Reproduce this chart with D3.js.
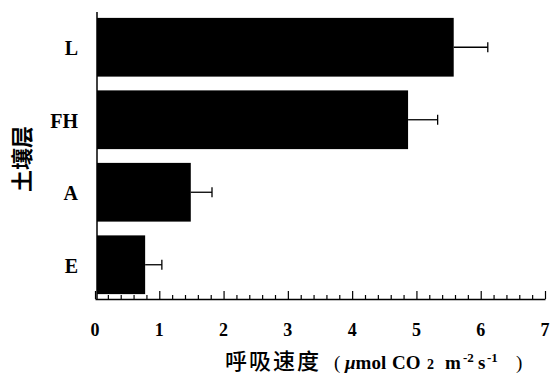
<!DOCTYPE html>
<html><head><meta charset="utf-8">
<script src="https://cdn.jsdelivr.net/npm/d3@7/dist/d3.min.js"></script>
<style>body{margin:0;background:#fff}</style>
</head><body>
<svg id="c" width="551" height="374"></svg>
<script>
const categories = ["L", "FH", "A", "E"];
const values = [5.58, 4.87, 1.49, 0.78];
const errors = [0.53, 0.46, 0.33, 0.26];
const xTicks = [0, 1, 2, 3, 4, 5, 6, 7];

const svg = d3.select("#c");
const x = d3.scaleLinear().domain([0, 7]).range([95, 545]);
const y = d3.scaleBand().domain(categories).range([11, 301]).paddingInner(0.19).paddingOuter(0.095);
const axisY = 299;
const serif = "'Liberation Serif','Times New Roman',serif";
const cjk = "'Noto Sans CJK SC',sans-serif";

// bars
svg.selectAll("rect.bar").data(categories).join("rect")
  .attr("x", x(0) + 2).attr("y", d => y(d))
  .attr("width", (d, i) => x(values[i]) - x(0) - 2)
  .attr("height", y.bandwidth()).attr("fill", "#000");

// error bars
const eb = svg.append("g").attr("stroke", "#000").attr("stroke-width", 1.3);
categories.forEach((c, i) => {
  const cy = y(c) + y.bandwidth() / 2;
  eb.append("line").attr("x1", x(values[i])).attr("x2", x(values[i] + errors[i])).attr("y1", cy).attr("y2", cy);
  eb.append("line").attr("x1", x(values[i] + errors[i])).attr("x2", x(values[i] + errors[i])).attr("y1", cy - 5).attr("y2", cy + 5);
});

// y axis line
svg.append("line").attr("x1", 97).attr("x2", 97).attr("y1", 12).attr("y2", axisY).attr("stroke", "#000").attr("stroke-width", 1.5);

// x axis
const xAxis = d3.axisBottom(x).tickValues(d3.range(0, 7.001, 0.2)).tickSize(0).tickFormat("");
const gx = svg.append("g").attr("transform", `translate(0,${axisY})`).call(xAxis);
gx.select(".domain").attr("stroke", "#000").attr("stroke-width", 1.5);
gx.selectAll(".tick line").attr("stroke", "#000").attr("stroke-width", 1.2)
  .attr("y2", d => Math.abs(d - Math.round(d)) < 1e-6 ? -8 : -4);

// tick labels
svg.append("g").selectAll("text").data(xTicks).join("text")
  .attr("x", d => x(d)).attr("y", 336).attr("text-anchor", "middle")
  .attr("font-family", serif).attr("font-weight", "bold").attr("font-size", 18)
  .text(d => d);

// category labels
svg.append("g").selectAll("text").data(categories).join("text")
  .attr("x", 78).attr("y", d => y(d) + y.bandwidth() / 2 + 8).attr("text-anchor", "end")
  .attr("font-family", serif).attr("font-weight", "bold").attr("font-size", 20)
  .text(d => d);

// y title
svg.append("text").attr("transform", "translate(30,159) rotate(-90)")
  .attr("text-anchor", "middle").attr("font-family", cjk).attr("font-weight", "bold").attr("font-size", 22)
  .text("土壤层");

// x title
const t = svg.append("text").attr("y", 369).attr("font-size", 19).attr("font-weight", "bold");
t.append("tspan").attr("x", 225).attr("font-family", cjk).attr("font-size", 22).attr("font-weight", 500).attr("letter-spacing", 2).text("呼吸速度");
t.append("tspan").attr("x", 334).attr("font-family", serif).attr("font-weight", "normal").text("(");
t.append("tspan").attr("x", 345).attr("font-family", serif).attr("font-style", "italic").text("μ");
t.append("tspan").attr("font-family", serif).text("mol");
t.append("tspan").attr("x", 392).attr("font-family", serif).text("CO");
t.append("tspan").attr("x", 427).attr("font-family", serif).attr("font-size", 14).text("2");
t.append("tspan").attr("x", 445).attr("font-family", serif).text("m");
t.append("tspan").attr("x", 463).attr("font-family", serif).attr("font-size", 13).attr("dy", -7).text("-2");
t.append("tspan").attr("x", 478).attr("font-family", serif).attr("dy", 7).text("s");
t.append("tspan").attr("x", 487).attr("font-family", serif).attr("font-size", 13).attr("dy", -7).text("-1");
t.append("tspan").attr("x", 516).attr("font-family", serif).attr("font-weight", "normal").attr("dy", 7).text(")");
</script>
</body></html>
